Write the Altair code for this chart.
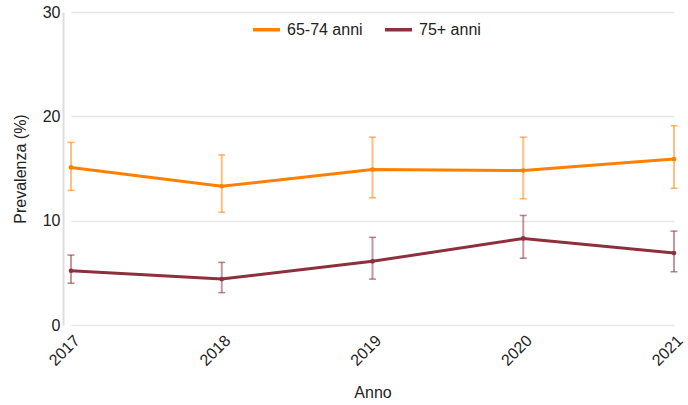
import altair as alt
import pandas as pd

# Survey years
years = [2017, 2018, 2019, 2020, 2021]

# Prevalence (%) with 95% confidence bounds, by age group
group_a = "65-74 anni"
prev_a = [15.1, 13.3, 14.9, 14.8, 15.9]
low_a = [12.9, 10.8, 12.2, 12.1, 13.1]
high_a = [17.5, 16.3, 18.0, 18.0, 19.1]

group_b = "75+ anni"
prev_b = [5.2, 4.4, 6.1, 8.3, 6.9]
low_b = [4.0, 3.1, 4.4, 6.4, 5.1]
high_b = [6.7, 6.0, 8.4, 10.5, 9.0]

groups = [group_a, group_b]
colors = ["#ff8000", "#8e2f3d"]

rows = []
for g, p, lo, hi in [(group_a, prev_a, low_a, high_a), (group_b, prev_b, low_b, high_b)]:
    for y, v, l, h in zip(years, p, lo, hi):
        rows.append({"Anno": y, "Gruppo": g, "Prevalenza": v, "lo": l, "hi": h})
df = pd.DataFrame(rows)

FONT = "Liberation Sans"
TXT = "#222222"

x = alt.X(
    "Anno:Q",
    title="Anno",
    scale=alt.Scale(domain=[years[0], years[-1]], nice=False, zero=False),
    axis=alt.Axis(
        values=years,
        format="d",
        labelAngle=-45,
        labelAlign="right",
        labelBaseline="top",
        labelFontSize=16,
        labelColor=TXT,
        labelPadding=7,
        titleFontSize=16,
        titleFontWeight="normal",
        titleColor=TXT,
        titlePadding=16,
        domain=False,
        ticks=False,
        grid=False,
    ),
)

color = alt.Color(
    "Gruppo:N",
    scale=alt.Scale(domain=groups, range=colors),
    legend=alt.Legend(
        title=None,
        orient="none",
        legendX=180,
        legendY=2,
        direction="horizontal",
        symbolType="stroke",
        symbolSize=729,
        symbolStrokeWidth=3.5,
        symbolOpacity=1,
        labelFontSize=16,
        labelColor=TXT,
        labelFont=FONT,
        labelOffset=5,
        columnPadding=15,
    ),
)

y_axis = alt.Axis(
    values=[0, 10, 20, 30],
    labelFontSize=16,
    labelColor=TXT,
    labelPadding=3,
    titleFontSize=16,
    titleFontWeight="normal",
    titleColor=TXT,
    titlePadding=14,
    domain=True,
    domainColor="#dddddd",
    domainWidth=2,
    offset=8,
    ticks=False,
    grid=True,
    gridColor="#e6e6e6",
    gridWidth=1.5,
)

base = alt.Chart(df)

err = base.mark_rule(strokeWidth=2, opacity=0.5).encode(
    x=x,
    y=alt.Y("lo:Q", title="Prevalenza (%)", scale=alt.Scale(domain=[0, 30], nice=False), axis=y_axis),
    y2="hi:Q",
    color=color,
)

cap_lo = base.mark_tick(orient="horizontal", size=7, thickness=1.5, opacity=0.6).encode(
    x=x, y="lo:Q", color=color
)
cap_hi = base.mark_tick(orient="horizontal", size=7, thickness=1.5, opacity=0.6).encode(
    x=x, y="hi:Q", color=color
)

line = base.mark_line(strokeWidth=3).encode(x=x, y="Prevalenza:Q", color=color)

pts = base.mark_circle(size=22, opacity=1).encode(x=x, y="Prevalenza:Q", color=color)

chart = (
    alt.layer(line, err, cap_lo, cap_hi, pts)
    .properties(
        width=603,
        height=313,
        autosize=alt.AutoSizeParams(type="none"),
        padding={"left": 71, "top": 12, "right": 14, "bottom": 80},
    )
    .configure(font=FONT)
    .configure_view(stroke=None)
)

chart.save("out.html", embed_options={"renderer": "svg", "actions": False})
